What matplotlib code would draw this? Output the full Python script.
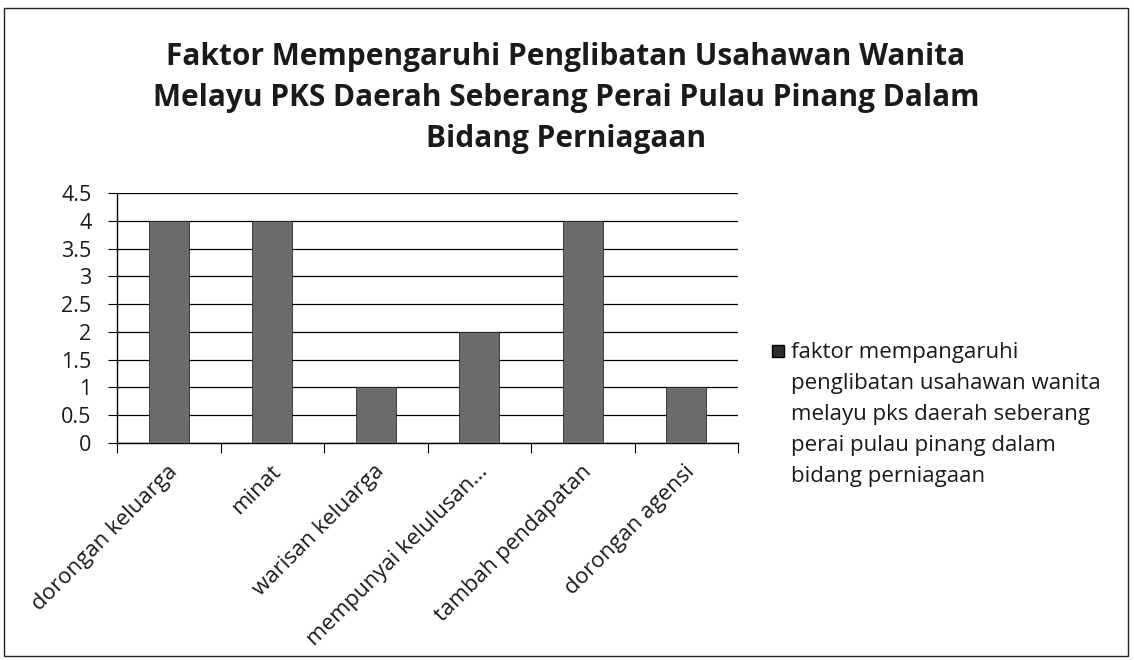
import matplotlib
matplotlib.use("Agg")
import matplotlib.pyplot as plt
import matplotlib.transforms as mtransforms
from matplotlib.patches import Rectangle

categories = ["dorongan keluarga", "minat", "warisan keluarga",
              "mempunyai kelulusan...", "tambah pendapatan", "dorongan agensi"]
values = [4, 4, 1, 2, 4, 1]
yticks = [0, 0.5, 1, 1.5, 2, 2.5, 3, 3.5, 4, 4.5]
ytick_labels = ["0", "0.5", "1", "1.5", "2", "2.5", "3", "3.5", "4", "4.5"]
title = ("Faktor Mempengaruhi Penglibatan Usahawan Wanita\n"
         "Melayu PKS Daerah Seberang Perai Pulau Pinang Dalam\n"
         "Bidang Perniagaan")
legend_label = ("faktor mempangaruhi\npenglibatan usahawan wanita\n"
                "melayu pks daerah seberang\nperai pulau pinang dalam\n"
                "bidang perniagaan")

plt.rcParams['font.family'] = ['Open Sans', 'DejaVu Sans']

fig = plt.figure(figsize=(11.34, 6.6), dpi=100)
ax = fig.add_axes([117/1134, 1-443/660, (738-117)/1134, (443-193)/660])

x = list(range(len(categories)))
ax.bar(x, values, width=0.39, color="#6b6b6b", edgecolor="#2a2a2a",
       linewidth=0.6, zorder=3)
ax.set_xlim(-0.5, len(categories) - 0.5)
ax.set_ylim(0, 4.5)
ax.set_yticks(yticks)
ax.set_yticklabels(ytick_labels, fontsize=15.5, color="#1a1a1a")
ax.yaxis.grid(True, color="black", linewidth=0.9, zorder=0)
ax.set_axisbelow(True)
for s in ["top", "right"]:
    ax.spines[s].set_visible(False)
ax.spines["left"].set_linewidth(1.0)
ax.spines["bottom"].set_linewidth(1.0)
ax.tick_params(axis="y", length=6.5, width=0.8, pad=12)
ax.set_xticks([i - 0.5 for i in range(len(categories) + 1)], minor=True)
ax.set_xticks(x)
ax.set_xticklabels(categories, rotation=45, ha="right", rotation_mode="anchor",
                   fontsize=16, color="#1a1a1a")
ax.tick_params(axis="x", which="major", length=0, pad=13)
ax.tick_params(axis="x", which="minor", length=7, width=0.8, direction="out")
offset = mtransforms.ScaledTranslation(-2/100, 0, fig.dpi_scale_trans)
for lab in ax.get_xticklabels():
    lab.set_transform(lab.get_transform() + offset)

fig.text(566 / 1134, 1 - 98/660, title, ha="center", va="center",
         fontsize=21.5, fontweight="bold", linespacing=1.47, color="#1a1a1a")

fig.patches.append(Rectangle((772/1134, 1 - 357/660), 12/1134, 12/660,
                             transform=fig.transFigure, facecolor="#2e2e2e",
                             edgecolor="black"))
fig.text(791/1134, 1 - 342/660, legend_label, ha="left", va="top",
         fontsize=16, linespacing=1.63, color="#1a1a1a")

fig.patches.append(Rectangle((4/1134, 4/660), 1124/1134, 648/660,
                             transform=fig.transFigure, fill=False,
                             edgecolor="#222222", linewidth=1.0))

fig.savefig("out.png", dpi=100)
